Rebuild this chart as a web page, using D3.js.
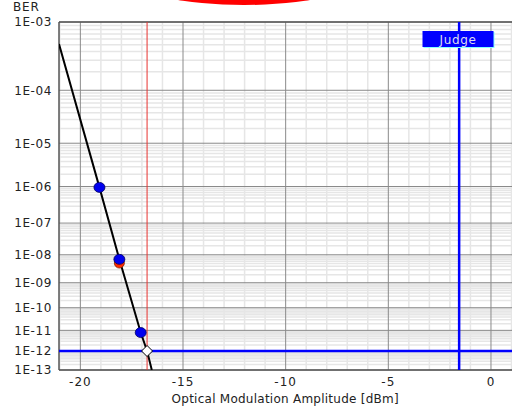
<!DOCTYPE html>
<html>
<head>
<meta charset="utf-8">
<script src="https://cdn.jsdelivr.net/npm/d3@7"></script>
<style>
  body { margin: 0; background: #fff; }
  text { font-family: "DejaVu Sans", Verdana, sans-serif; fill: #222; }
</style>
</head>
<body>
<div id="chart"></div>
<script>
// x ticks and BER decade labels
const xTicks = [-20, -15, -10, -5, 0];
const berDecades = [1e-3, 1e-4, 1e-5, 1e-6, 1e-7, 1e-8, 1e-9, 1e-10, 1e-11, 1e-12, 1e-13];
const berLabels = ["1E-03", "1E-04", "1E-05", "1E-06", "1E-07", "1E-08", "1E-09", "1E-10", "1E-11", "1E-12", "1E-13"];

// fitted BER curve
const fitOma = [-21.04, -19.07, -18.1, -17.06, -16.75, -16.52];
const fitBer = [5.1e-4, 9.5e-7, 7.0e-9, 7.9e-12, 1e-12, 1e-13];

// measured points
const measOma = [-19.07, -18.1, -17.06];
const measBer = [9.5e-7, 7.0e-9, 7.9e-12];
const redOma = [-18.1];
const redBer = [5.2e-9];

// sensitivity point, judge limits
const sensOma = -16.75, sensBer = 1e-12;
const judgeOma = -1.55, judgeBer = 1e-12;

let width = 512, height = 410;
let plot = {left: 59, top: 22, right: 511.5, bottom: 370};

let svg = d3.select("#chart").append("svg")
    .attr("width", width)
    .attr("height", height);

// decoration blob at top
svg.append("ellipse")
    .attr("cx", 244).attr("cy", -20)
    .attr("rx", 110).attr("ry", 25)
    .attr("fill", "#ff0000");

let x = d3.scaleLinear()
    .domain([-21.04, 1])
    .range([plot.left, plot.right]);

// BER axis is linear in log10(-log10(BER))
let yLin = d3.scaleLinear()
    .domain([Math.log10(3), Math.log10(13)])
    .range([plot.top, plot.bottom]);
let y = function (b) { return yLin(Math.log10(-Math.log10(b))); };

let g = svg.append("g");

// minor grid
let minorX = d3.range(-21, 2).filter(function (v) { return v % 5 !== 0; });
g.selectAll(".vminor").data(minorX).enter().append("line")
    .attr("x1", d => x(d)).attr("x2", d => x(d))
    .attr("y1", plot.top).attr("y2", plot.bottom)
    .attr("stroke", "#e6e6e6").attr("stroke-width", 1.5);

let minorY = [];
berDecades.slice(0, -1).forEach(function (b) {
    for (let k = 2; k <= 9; k++) minorY.push(k * b / 10);
});
g.selectAll(".hminor").data(minorY).enter().append("line")
    .attr("x1", plot.left).attr("x2", width)
    .attr("y1", d => y(d)).attr("y2", d => y(d))
    .attr("stroke", "#e6e6e6").attr("stroke-width", 1.5);

// major grid
g.selectAll(".vmajor").data(xTicks).enter().append("line")
    .attr("x1", d => x(d)).attr("x2", d => x(d))
    .attr("y1", plot.top).attr("y2", plot.bottom)
    .attr("stroke", "#8a8a8a").attr("stroke-width", 1);

g.selectAll(".hmajor").data(berDecades).enter().append("line")
    .attr("x1", plot.left).attr("x2", width)
    .attr("y1", d => y(d)).attr("y2", d => y(d))
    .attr("stroke", "#8a8a8a").attr("stroke-width", 1);

// frame
g.append("line").attr("x1", plot.left).attr("x2", plot.left)
    .attr("y1", plot.top).attr("y2", plot.bottom)
    .attr("stroke", "#555").attr("stroke-width", 1.5);
g.append("line").attr("x1", plot.left).attr("x2", width)
    .attr("y1", plot.top).attr("y2", plot.top)
    .attr("stroke", "#555").attr("stroke-width", 1.5);
g.append("line").attr("x1", plot.left).attr("x2", width)
    .attr("y1", plot.bottom).attr("y2", plot.bottom)
    .attr("stroke", "#555").attr("stroke-width", 1.5);

// tick labels
svg.selectAll(".ylab").data(berDecades).enter().append("text")
    .attr("x", 52)
    .attr("y", d => y(d))
    .attr("dy", "0.36em")
    .attr("text-anchor", "end")
    .attr("font-size", 12)
    .attr("letter-spacing", 0.6)
    .text((d, i) => berLabels[i]);

svg.selectAll(".xlab").data(xTicks).enter().append("text")
    .attr("x", d => x(d))
    .attr("y", 386)
    .attr("text-anchor", "middle")
    .attr("font-size", 12)
    .attr("letter-spacing", 1)
    .text(d => d);

svg.append("text")
    .attr("x", 13).attr("y", 11)
    .attr("font-size", 12)
    .attr("letter-spacing", 0.8)
    .text("BER");

svg.append("text")
    .attr("x", (plot.left + plot.right) / 2)
    .attr("y", 403)
    .attr("text-anchor", "middle")
    .attr("font-size", 12)
    .attr("letter-spacing", 0.25)
    .text("Optical Modulation Amplitude [dBm]");

// clip for data marks
svg.append("clipPath").attr("id", "plotclip")
    .append("rect")
    .attr("x", plot.left).attr("y", plot.top)
    .attr("width", width - plot.left).attr("height", plot.bottom - plot.top);

let data = svg.append("g").attr("clip-path", "url(#plotclip)");

// sensitivity marker line
data.append("line")
    .attr("x1", x(sensOma)).attr("x2", x(sensOma))
    .attr("y1", plot.top).attr("y2", plot.bottom)
    .attr("stroke", "#e8322e").attr("stroke-width", 1);

// judge lines
data.append("line")
    .attr("x1", x(judgeOma)).attr("x2", x(judgeOma))
    .attr("y1", plot.top).attr("y2", plot.bottom)
    .attr("stroke", "#0000ff").attr("stroke-width", 2.5);
data.append("line")
    .attr("x1", plot.left).attr("x2", width)
    .attr("y1", y(judgeBer)).attr("y2", y(judgeBer))
    .attr("stroke", "#0000ff").attr("stroke-width", 2.5);

// fit curve
let fitPts = fitOma.map((v, i) => [x(v), y(fitBer[i])]);
data.append("path")
    .attr("d", d3.line()(fitPts))
    .attr("fill", "none")
    .attr("stroke", "#000")
    .attr("stroke-width", 2);

// red (hidden) measurement
data.selectAll(".red").data(redOma).enter().append("circle")
    .attr("cx", d => x(d)).attr("cy", (d, i) => y(redBer[i]))
    .attr("r", 5)
    .attr("fill", "#ff2a00").attr("stroke", "#802000").attr("stroke-width", 0.8);

// blue measurements
data.selectAll(".meas").data(measOma).enter().append("ellipse")
    .attr("cx", d => x(d)).attr("cy", (d, i) => y(measBer[i]))
    .attr("rx", 5.5).attr("ry", 5)
    .attr("fill", "#0000ee").attr("stroke", "#000060").attr("stroke-width", 0.8);

// sensitivity diamond
let sx = x(sensOma), sy = y(sensBer), s = 5.5;
data.append("path")
    .attr("d", "M" + sx + "," + (sy - s) + "L" + (sx + s) + "," + sy + "L" + sx + "," + (sy + s) + "L" + (sx - s) + "," + sy + "Z")
    .attr("fill", "#fff").attr("stroke", "#000").attr("stroke-width", 1);

// Judge box
svg.append("rect")
    .attr("x", 423.5).attr("y", 32)
    .attr("width", 71).attr("height", 16)
    .attr("fill", "#8ff");
svg.append("rect")
    .attr("x", 422.5).attr("y", 31)
    .attr("width", 71).attr("height", 16)
    .attr("fill", "#0000ff");
svg.append("text")
    .attr("x", 458).attr("y", 43.5)
    .attr("text-anchor", "middle")
    .attr("font-size", 12)
    .attr("letter-spacing", 0.6)
    .style("fill", "#dde")
    .text("Judge");
</script>
</body>
</html>
